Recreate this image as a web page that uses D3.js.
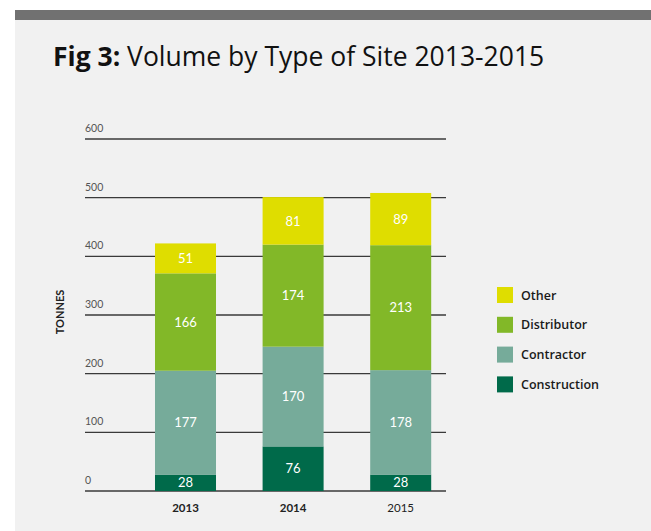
<!DOCTYPE html>
<html><head><meta charset="utf-8">
<script src="https://cdn.jsdelivr.net/npm/d3@7"></script>
<style>html,body{margin:0;padding:0;background:#fff;}svg{display:block;}</style>
</head><body>
<script>
const years = ["2013", "2014", "2015"];
const seriesNames = ["Construction", "Contractor", "Distributor", "Other"];
const construction = [28, 76, 28];
const contractor = [177, 170, 178];
const distributor = [166, 174, 213];
const other = [51, 81, 89];
const yTicks = [0, 100, 200, 300, 400, 500, 600];
const colors = ["#006a4a", "#76ab9a", "#82b828", "#dfdd00"];
const legendOrder = ["Other", "Distributor", "Contractor", "Construction"];

const W = 651, H = 531;
const svg = d3.select("body").append("svg").attr("width", W).attr("height", H);
const font = "Lato, 'Open Sans', sans-serif";
const wfont = "'Open Sans', Lato, sans-serif";

svg.append("rect").attr("x", 15).attr("y", 20).attr("width", W - 15).attr("height", H - 20).attr("fill", "#f1f1f1");
svg.append("rect").attr("x", 15).attr("y", 10).attr("width", W - 15).attr("height", 10).attr("fill", "#717171");

const title = svg.append("text").attr("x", 53).attr("y", 66)
  .attr("font-family", wfont).attr("font-size", 26.5).attr("fill", "#111");
title.append("tspan").attr("font-weight", "bold").text("Fig 3:");
title.append("tspan").text(" Volume by Type of Site 2013-2015");

const table = years.map((y, i) => ({year: y, Construction: construction[i], Contractor: contractor[i], Distributor: distributor[i], Other: other[i]}));
const stacked = d3.stack().keys(seriesNames)(table);

const y = d3.scaleLinear().domain([0, 600]).range([491, 139]);
const x = d3.scaleBand().domain(years).range([131.7, 454.5]).paddingInner(0.433).paddingOuter(0.2165);

const grid = svg.append("g");
yTicks.forEach(t => {
  grid.append("line").attr("x1", 85).attr("x2", 446).attr("y1", y(t)).attr("y2", y(t))
    .attr("stroke", "#3a3a3a").attr("stroke-width", 1.3);
  grid.append("text").attr("x", 85).attr("y", y(t) - 7).text(t)
    .attr("font-family", font).attr("font-size", 10.5).attr("fill", "#555");
});

const color = d3.scaleOrdinal().domain(seriesNames).range(colors);
const layers = svg.append("g").selectAll("g").data(stacked).join("g").attr("fill", d => color(d.key));
layers.selectAll("rect").data(d => d).join("rect")
  .attr("x", d => x(d.data.year)).attr("width", x.bandwidth())
  .attr("y", d => y(d[1])).attr("height", d => y(d[0]) - y(d[1]));

const labels = svg.append("g");
stacked.forEach(layer => {
  layer.forEach(d => {
    labels.append("text").attr("x", x(d.data.year) + x.bandwidth() / 2)
      .attr("y", (y(d[0]) + y(d[1])) / 2).attr("dy", "0.36em")
      .attr("text-anchor", "middle").attr("font-family", font).attr("font-size", 13)
      .attr("fill", "#fff").text(d[1] - d[0]);
  });
});

years.forEach((yr, i) => {
  svg.append("text").attr("x", x(yr) + x.bandwidth() / 2).attr("y", 512)
    .attr("text-anchor", "middle").attr("font-family", font).attr("font-size", 11.5)
    .attr("font-weight", i < 2 ? "bold" : "normal").attr("fill", "#222").text(yr);
});

svg.append("text").attr("transform", "translate(64,312) rotate(-90)")
  .attr("text-anchor", "middle").attr("font-family", font).attr("font-size", 11)
  .attr("font-weight", "bold").attr("fill", "#222").text("TONNES");

const leg = svg.append("g");
legendOrder.forEach((name, i) => {
  const yy = 287 + i * 29.8;
  leg.append("rect").attr("x", 497).attr("y", yy).attr("width", 16).attr("height", 16).attr("fill", color(name));
  leg.append("text").attr("x", 521).attr("y", yy + 8).attr("dy", "0.36em")
    .attr("font-family", wfont).attr("font-size", 12.5).attr("font-weight", 600).attr("fill", "#1a1a1a").text(name);
});
</script>
</body></html>
